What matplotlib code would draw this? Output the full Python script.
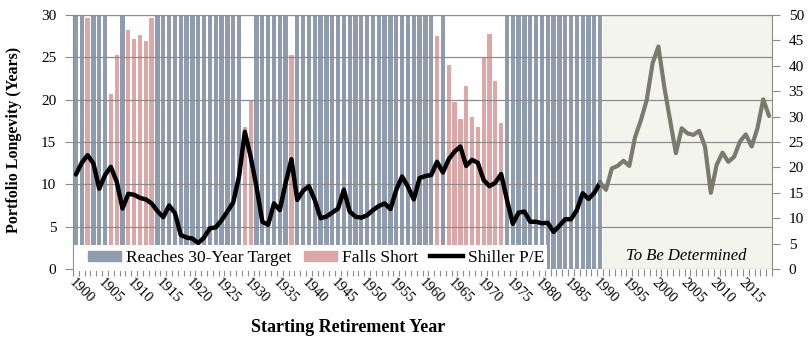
import matplotlib.pyplot as plt
import numpy as np
from matplotlib.lines import Line2D
from matplotlib.patches import Patch, Rectangle

plt.rcParams["font.family"] = ["Liberation Serif", "DejaVu Serif"]

# Start years with a known 30-year outcome, and those that came up short
first_start, last_start = 1900, 1990
target = 30
short_years = [1902, 1906, 1907, 1909, 1910, 1911, 1912, 1913, 1929, 1930, 1937,
               1962, 1964, 1965, 1966, 1967, 1968, 1969, 1970, 1971, 1972, 1973]
short_longevity = [29.7, 20.7, 25.3, 28.2, 27.2, 27.6, 26.9, 29.6, 16.8, 20.0, 25.3,
                   27.5, 24.1, 19.7, 17.7, 21.6, 17.9, 16.8, 25.0, 27.7, 22.2, 17.3]

# January Shiller P/E, 1900-2019
pe_years = list(range(1900, 2020))
shiller_pe = [
    18.6, 20.9, 22.4, 20.8, 15.8, 18.5, 20.1, 17.2, 11.9, 14.8,
    14.6, 14.0, 13.7, 12.9, 11.4, 10.2, 12.5, 11.0, 6.7, 6.2,
    6.0, 5.1, 6.2, 8.0, 8.2, 9.6, 11.3, 13.1, 18.2, 27.0,
    22.1, 16.2, 9.3, 8.7, 12.9, 11.6, 16.9, 21.6, 13.6, 15.4,
    16.3, 13.6, 10.0, 10.3, 11.1, 11.9, 15.6, 11.3, 10.3, 10.1,
    10.6, 11.6, 12.4, 12.9, 11.8, 15.6, 18.2, 16.2, 13.7, 17.9,
    18.3, 18.5, 21.1, 19.0, 21.6, 23.1, 24.1, 20.3, 21.5, 20.9,
    17.5, 16.3, 17.0, 18.7, 13.6, 8.9, 11.1, 11.3, 9.3, 9.3,
    9.0, 9.1, 7.3, 8.5, 9.8, 9.8, 11.6, 14.9, 13.8, 15.0,
    17.0, 15.6, 19.8, 20.3, 21.3, 20.3, 26.0, 29.3, 33.3, 40.5,
    43.8, 35.9, 29.3, 22.8, 27.7, 26.7, 26.4, 27.2, 24.1, 15.0,
    20.5, 22.9, 21.1, 22.1, 25.1, 26.5, 24.1, 27.7, 33.4, 30.1,
]

BLUE = "#8f9bae"
PINK = "#dea7a7"
SHADE = "#f3f5ec"
GRID = "#8c8c8c"

start_years = np.arange(first_start, last_start + 1)
lookup = dict(zip(short_years, short_longevity))
longevity = np.array([lookup.get(y, target) for y in start_years])
colors = [PINK if v < target else BLUE for v in longevity]

fig = plt.figure(figsize=(8.12, 3.43), dpi=100)
ax = fig.add_axes([73 / 812, 1 - 269 / 343, 699 / 812, 254 / 343])

ax.axvspan(last_start + 0.5, pe_years[-1] + 0.5, color=SHADE, lw=0, zorder=0)
ax.bar(start_years, longevity, width=0.74, color=colors, zorder=1)

ax.set_xlim(pe_years[0] - 0.5, pe_years[-1] + 0.5)
ax.set_ylim(0, 30)
ax.set_yticks(range(0, 31, 5))
ax.grid(axis="y", color=GRID, lw=0.9)
ax.set_axisbelow(False)

ax.set_xticks(range(1900, 2016, 5))
ax.set_xticks(np.arange(1899.5, 2020, 1), minor=True)
ax.tick_params(axis="x", which="major", length=0, pad=5, labelsize=10.5,
               labelrotation=-45)
for lab in ax.get_xticklabels():
    lab.set_ha("left")
    lab.set_va("top")
    lab.set_rotation_mode("anchor")
ax.tick_params(axis="x", which="minor", length=5, color=GRID, width=0.8)
ax.tick_params(axis="y", length=6, color=GRID, labelsize=11, pad=6)

for side in ("bottom", "right"):
    ax.spines[side].set_visible(False)
for side in ("left", "top"):
    ax.spines[side].set_color(GRID)

ax2 = ax.twinx()
ax2.plot(pe_years[:91], shiller_pe[:91], color="black", lw=3.2,
         solid_joinstyle="round", solid_capstyle="round")
ax2.plot(pe_years[90:], shiller_pe[90:], color="#7a7a6e", lw=3.0,
         solid_joinstyle="round", solid_capstyle="round")
ax2.set_ylim(0, 50)
ax2.set_yticks(range(0, 51, 5))
ax2.tick_params(axis="y", length=6, color=GRID, labelsize=11, pad=6)
for side in ("left", "top", "bottom"):
    ax2.spines[side].set_visible(False)
ax2.spines["right"].set_color(GRID)

ax2.text(2004.8, 2.6, "To Be Determined", style="italic",
         fontsize=12, ha="center", va="center")

# white strip behind the legend, covering the lower ends of the bars
ax2.add_patch(Rectangle((0.6 / 699, -2 / 254), 473.4 / 699, 26 / 254,
                        transform=ax2.transAxes, facecolor="white",
                        edgecolor="none", zorder=4, clip_on=False))
handles = [Patch(color=BLUE), Patch(color=PINK),
           Line2D([], [], color="black", lw=3.2)]
labels = ["Reaches 30-Year Target", "Falls Short", "Shiller P/E"]
leg = ax2.legend(handles, labels, loc="center left",
                 bbox_to_anchor=(15 / 699, 11 / 254), ncol=3, frameon=False,
                 fontsize=12.5, handlelength=1.9, handleheight=0.55,
                 handletextpad=0.3, columnspacing=0.7, borderpad=0,
                 borderaxespad=0)
leg.set_zorder(5)

fig.text(348 / 812, 1 - 327 / 343, "Starting Retirement Year",
         ha="center", va="center", fontsize=13, fontweight="bold")
fig.text(14 / 812, 1 - 140 / 343, "Portfolio Longevity (Years)", rotation=90,
         ha="center", va="center", fontsize=11.5, fontweight="bold")

fig.savefig("out.png", dpi=100)
